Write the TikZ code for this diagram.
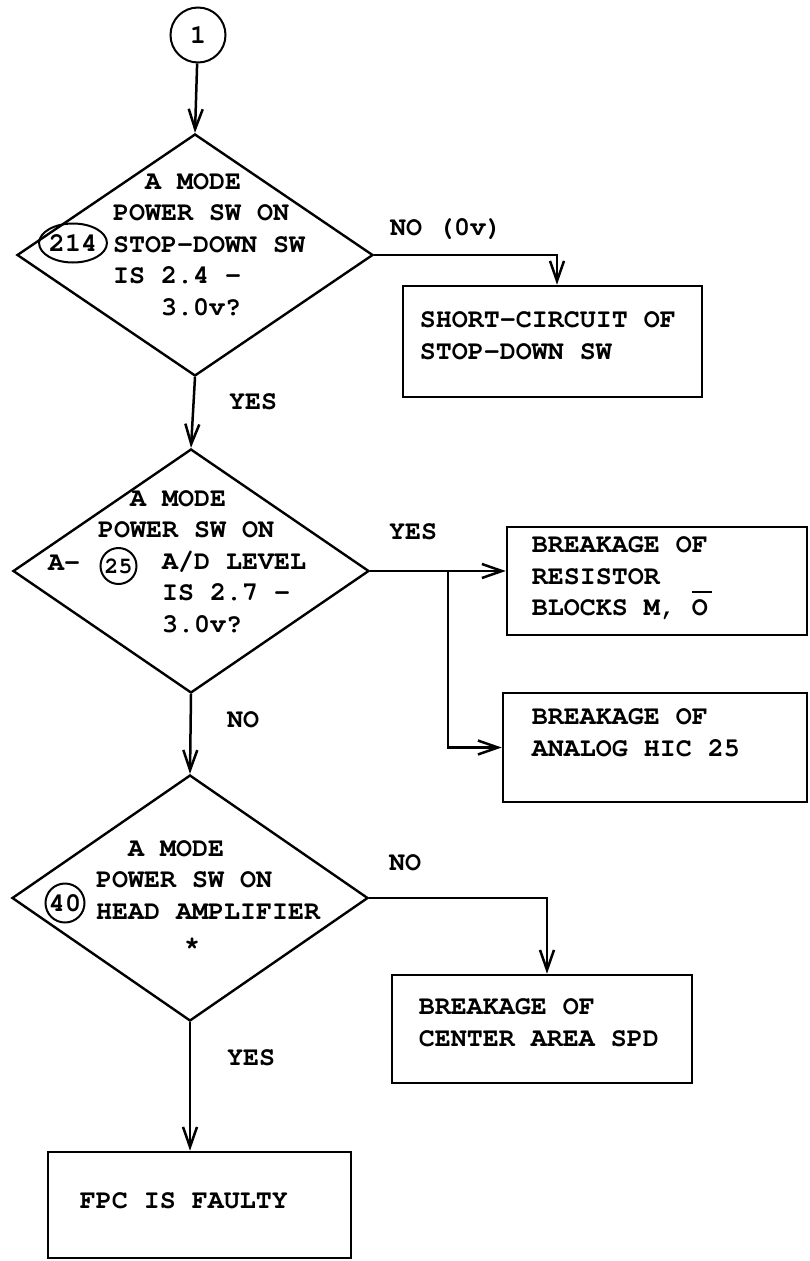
\documentclass[tikz,border=0pt]{standalone}
\usepackage[T1]{fontenc}
\usepackage{courier}
\usepackage{tikz}
\usetikzlibrary{shapes.geometric, arrows.meta, positioning}

\newcommand{\tw}{\ttfamily\bfseries\fontsize{26.67}{31.6}\selectfont}
\newcommand{\tws}{\ttfamily\bfseries\fontsize{23}{28}\selectfont}
\newcommand{\barletter}[1]{\leavevmode\rlap{\raisebox{23pt}{\rule{20pt}{2pt}}}#1}

\begin{document}
\begin{tikzpicture}[
    x=1pt, y=-1pt,
    decision/.style={diamond, draw, line width=2.4pt, inner sep=0pt, minimum width=356pt, minimum height=242pt},
    result/.style={rectangle, draw, line width=2.6pt, inner sep=0pt},
    txt/.style={inner sep=0pt, align=left, font=\tw},
    lbl/.style={inner sep=0pt, anchor=base west, font=\tw},
    ref/.style={draw, line width=2pt, inner sep=0pt, font=\tw},
    flow/.style={-{Straight Barb[length=20pt, width=14pt]}, line width=2.5pt},
]
\useasboundingbox (0,0) rectangle (810,1261);

% entry point and decisions
\node[ref, circle, minimum size=55pt] (start) at (198,35) {1};
\node[decision] (d1) at (195,255) {};
\node[decision, minimum height=244pt] (d2) at (191,571) {};
\node[decision, minimum height=246pt] (d3) at (190,898) {};

\node[txt, anchor=north west] (t1) at (113,173) {\hspace*{32pt}A MODE\\POWER SW ON\\STOP-DOWN SW\\IS 2.4 -\\\hspace*{48pt}3.0v?};
\node[ref, ellipse, minimum width=54pt, minimum height=39pt] (r214) at (73,243) {214};

\node[txt, anchor=north west] (t2) at (98,490) {\hspace*{32pt}A MODE\\POWER SW ON\\\hspace*{64pt}A/D LEVEL\\\hspace*{64pt}IS 2.7 -\\\hspace*{64pt}3.0v?};
\node[lbl] (pre25) at (48,570.5) {A-};
\node[ref, circle, minimum size=36pt, font=\tws] (r25) at (118.5,566) {25};

\node[txt, anchor=north west] (t3) at (96,840) {\hspace*{32pt}A MODE\\POWER SW ON\\HEAD AMPLIFIER\\\hspace*{88pt}*};
\node[ref, circle, minimum size=39pt] (r40) at (65,903) {40};

% result boxes
\node[result, minimum width=299pt, minimum height=111pt] (b1) at (552.5,341.5) {};
\node[txt, below right=27pt and 18pt of b1.north west] (tb1) {SHORT-CIRCUIT OF\\STOP-DOWN SW};
\node[result, minimum width=300pt, minimum height=108pt] (b2) at (657,581) {};
\node[txt, below right=11pt and 26pt of b2.north west] (tb2) {BREAKAGE OF\\RESISTOR\\BLOCKS M, \barletter{O}};
\node[result, minimum width=304pt, minimum height=109pt] (b3) at (655,747.5) {};
\node[txt, below right=17pt and 30pt of b3.north west] (tb3) {BREAKAGE OF\\ANALOG HIC 25};
\node[result, minimum width=300pt, minimum height=108pt] (b4) at (542,1029) {};
\node[txt, below right=25pt and 28pt of b4.north west] (tb4) {BREAKAGE OF\\CENTER AREA SPD};
\node[result, minimum width=303pt, minimum height=106pt] (b5) at (199.5,1205) {};
\node[txt, below right=42pt and 33pt of b5.north west] (tb5) {FPC IS FAULTY};

% branch labels
\node[lbl] (no1) at (390,235.5) {NO (0v)};
\node[lbl] (yes1) at (229,409.5) {YES};
\node[lbl] (yes2) at (389,539.5) {YES};
\node[lbl] (no2) at (227,727.5) {NO};
\node[lbl] (no3) at (389,870.5) {NO};
\node[lbl] (yes3) at (227,1065.5) {YES};

\coordinate (split) at (448,571);

\draw[flow] (start) -- (d1.north);
\draw[flow] (d1.east) -| ([xshift=4.5pt]b1.north);
\draw[flow] (d1.south) -- (d2.north);
\draw[flow] (d2.east) -- (d2.east -| b2.west);
\draw[flow] (split) |- (b3.west);
\draw[flow] (d2.south) -- (d3.north);
\draw[flow] (d3.east) -| ([xshift=5pt]b4.north);
\draw[flow] (d3.south) -- (d3.south |- b5.north);

\end{tikzpicture}
\end{document}
